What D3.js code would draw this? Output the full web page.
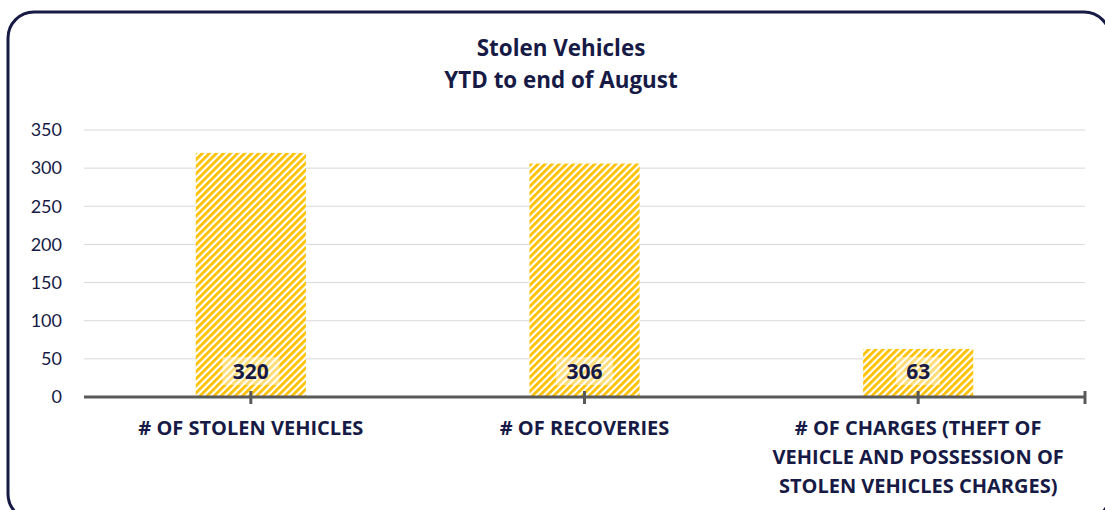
<!DOCTYPE html>
<html>
<head>
<meta charset="utf-8">
<script src="https://cdn.jsdelivr.net/npm/d3@7/dist/d3.min.js"></script>
<style>
  body { margin: 0; background: #fff; }
  svg { display: block; font-family: Lato, 'Open Sans', sans-serif; }
  .bold { font-family: 'Open Sans', Lato, sans-serif; font-weight: bold; }
</style>
</head>
<body>
<div class="chart"></div>
<script>
const categories = [
  ['# OF STOLEN VEHICLES'],
  ['# OF RECOVERIES'],
  ['# OF CHARGES (THEFT OF', 'VEHICLE AND POSSESSION OF', 'STOLEN VEHICLES CHARGES)']
];
const values = [320, 306, 63];
const yTicks = [0, 50, 100, 150, 200, 250, 300, 350];
const titleLines = ['Stolen Vehicles', 'YTD to end of August'];

const width = 1105, height = 510;
const navy = '#161a45';

const svg = d3.select('.chart').append('svg')
  .attr('width', width)
  .attr('height', height);

// hatch pattern for the bars
const defs = svg.append('defs');
const pat = defs.append('pattern')
  .attr('id', 'hatch')
  .attr('patternUnits', 'userSpaceOnUse')
  .attr('width', 5)
  .attr('height', 5)
  .attr('patternTransform', 'rotate(45)');
pat.append('rect').attr('width', 5).attr('height', 5).attr('fill', '#fff');
pat.append('rect').attr('width', 2.8).attr('height', 5).attr('fill', '#ffc000');

// frame
svg.append('rect')
  .attr('x', 8).attr('y', 12)
  .attr('width', 1102).attr('height', 508)
  .attr('rx', 26)
  .attr('fill', 'none')
  .attr('stroke', navy)
  .attr('stroke-width', 3);

const x = d3.scaleBand()
  .domain(d3.range(values.length))
  .range([84, 1085])
  .paddingInner(0.67)
  .paddingOuter(0.335);

const y = d3.scaleLinear()
  .domain([0, 350])
  .range([397, 130]);

// gridlines
svg.append('g')
  .selectAll('line')
  .data(yTicks.slice(1))
  .join('line')
  .attr('x1', 84).attr('x2', 1085)
  .attr('y1', d => y(d)).attr('y2', d => y(d))
  .attr('stroke', '#d9d9d9')
  .attr('stroke-width', 1);

// y labels
svg.append('g')
  .selectAll('text')
  .data(yTicks)
  .join('text')
  .attr('x', 62)
  .attr('y', d => y(d))
  .attr('dy', '0.35em')
  .attr('text-anchor', 'end')
  .attr('font-size', 18)
  .attr('fill', navy)
  .text(d => d);

// bars
svg.append('g')
  .selectAll('rect')
  .data(values)
  .join('rect')
  .attr('x', (d, i) => x(i))
  .attr('y', d => y(d))
  .attr('width', x.bandwidth())
  .attr('height', d => y(0) - y(d))
  .attr('fill', 'url(#hatch)');

// axis line + ticks
svg.append('line')
  .attr('x1', 84).attr('x2', 1085)
  .attr('y1', 397).attr('y2', 397)
  .attr('stroke', '#595959')
  .attr('stroke-width', 3);

const tickX = values.map((d, i) => x(i) + x.bandwidth() / 2).concat([1085]);
svg.append('g')
  .selectAll('line')
  .data(tickX)
  .join('line')
  .attr('x1', d => d).attr('x2', d => d)
  .attr('y1', 391).attr('y2', 404)
  .attr('stroke', '#595959')
  .attr('stroke-width', 3);

// data labels
const lab = svg.append('g')
  .selectAll('g')
  .data(values)
  .join('g')
  .attr('transform', (d, i) => `translate(${x(i) + x.bandwidth() / 2}, 371)`);

lab.append('rect')
  .attr('x', d => -(String(d).length * 6.5 + 9))
  .attr('y', -14)
  .attr('width', d => 2 * (String(d).length * 6.5 + 9))
  .attr('height', 28)
  .attr('fill', 'rgba(255,255,255,0.45)');

lab.append('text')
  .attr('class', 'bold')
  .attr('text-anchor', 'middle')
  .attr('dy', '0.36em')
  .attr('font-size', 21)
  .attr('fill', navy)
  .text(d => d);

// category labels
svg.append('g')
  .selectAll('text')
  .data(categories)
  .join('text')
  .attr('class', 'bold')
  .attr('x', (d, i) => x(i) + x.bandwidth() / 2)
  .attr('y', 428)
  .attr('text-anchor', 'middle')
  .attr('font-size', 20)
  .attr('fill', navy)
  .selectAll('tspan')
  .data(d => d)
  .join('tspan')
  .attr('x', function () { return this.parentNode.getAttribute('x'); })
  .attr('dy', (d, i) => i === 0 ? '0.35em' : 29)
  .text(d => d);

// title
svg.append('text')
  .attr('class', 'bold')
  .attr('x', 561)
  .attr('y', 48)
  .attr('text-anchor', 'middle')
  .attr('font-size', 22.4)
  .attr('fill', navy)
  .selectAll('tspan')
  .data(titleLines)
  .join('tspan')
  .attr('x', 561)
  .attr('dy', (d, i) => i === 0 ? '0.35em' : 32)
  .text(d => d);
</script>
</body>
</html>
